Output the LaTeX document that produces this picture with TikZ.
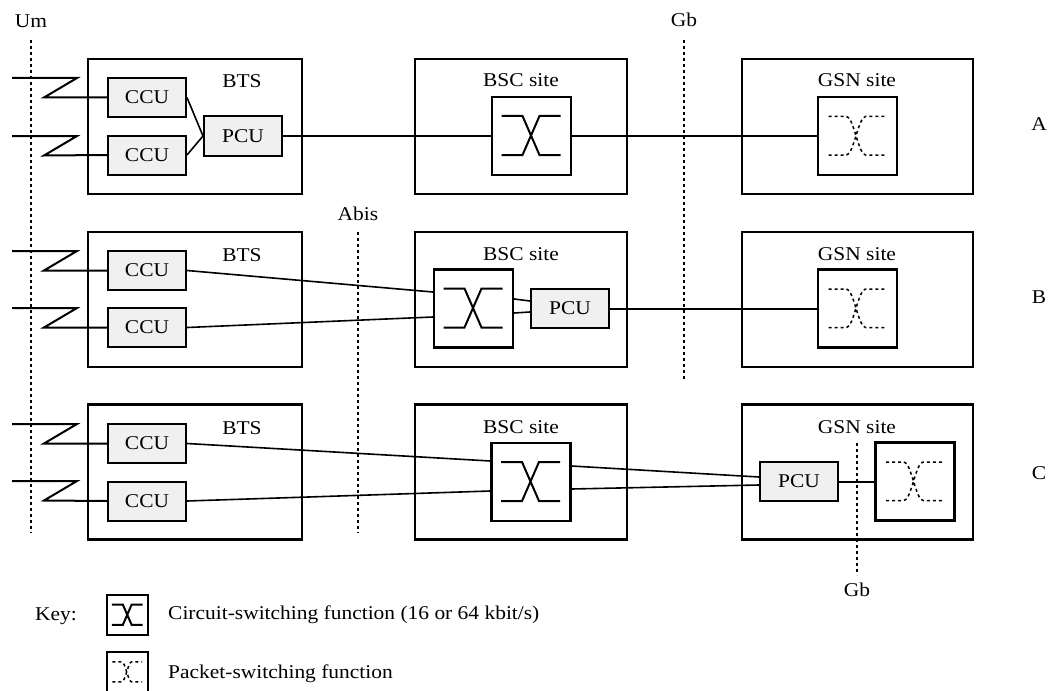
\documentclass[tikz,border=0pt]{standalone}
\usepackage{fontspec}
\setmainfont{Liberation Serif}[FakeStretch=1.1]
\usetikzlibrary{calc}
\begin{document}
\begin{tikzpicture}[x=1pt,y=-1pt,
  every node/.style={font=\fontsize{19.5}{23}\selectfont, inner sep=0pt},
  site/.style={draw, line width=2.3pt, minimum height=135pt},
  unitbox/.style={draw, line width=2pt, fill=black!6, minimum width=78pt, minimum height=39pt},
  swbox/.style={draw, line width=2.2pt, minimum width=79pt, minimum height=78pt},
  conn/.style={line width=2pt},
  thinconn/.style={line width=1.6pt},
  dotline/.style={line width=2pt, dash pattern=on 3pt off 3pt},
  lbl/.style={anchor=base},
  cswpic/.pic={\draw[line width=2pt, line join=miter] (-30,-20) -- (-9,-20) -- (8,19) -- (29,19) (-30,19) -- (-9,19) -- (8,-20) -- (29,-20);},
  pswpic/.pic={\draw[line width=1.5pt, dash pattern=on 3pt off 3pt] (-29,-19.5) -- (-11,-19.5) .. controls (-4,-19.5) and (1,19) .. (8,19) -- (28,19) (-29,19) -- (-11,19) .. controls (-4,19) and (1,-19.5) .. (8,-19.5) -- (28,-19.5);}
]
\useasboundingbox (0,0) rectangle (1051,690);

% interface lines
\coordinate (umT) at (31,40);  \coordinate (umB) at (31,533);
\coordinate (abT) at (358,232); \coordinate (abB) at (358,533);
\coordinate (gbT) at (684,40); \coordinate (gbB) at (684,380);
\coordinate (gb2T) at (857,443); \coordinate (gb2B) at (857,575);
\draw[dotline] (umT) -- (umB);
\draw[dotline] (abT) -- (abB);
\draw[dotline] (gbT) -- (gbB);
\node[lbl] (um) at (31,28) {Um};
\node[lbl] (abis) at (358,220) {Abis};
\node[lbl] (gb) at (684,27) {Gb};
\node[lbl] (gb2) at (857,596) {Gb};

% sites
\foreach \r/\y in {A/126.5,B/299.5,C/472}{
  \node[site, minimum width=214pt] (bts\r) at (195,\y) {};
  \node[site, minimum width=212pt] (bsc\r) at (521,\y) {};
  \node[site, minimum width=231pt] (gsn\r) at (857.5,\y) {};
}
\node[lbl] (btsAl) at (242,88) {BTS};
\node[lbl] (btsBl) at (242,261) {BTS};
\node[lbl] (btsCl) at (242,434) {BTS};
\node[lbl] (bscAl) at (521,87) {BSC site};
\node[lbl] (bscBl) at (521,260) {BSC site};
\node[lbl] (bscCl) at (521,433) {BSC site};
\node[lbl] (gsnAl) at (857,87) {GSN site};
\node[lbl] (gsnBl) at (857,260) {GSN site};
\node[lbl] (gsnCl) at (857,433) {GSN site};
\node[lbl] (rowA) at (1039,130) {A};
\node[lbl] (rowB) at (1039,303) {B};
\node[lbl] (rowC) at (1039,479) {C};

\draw[dotline] (gb2T) -- (gb2B);

% units
\node[unitbox] (ccuA1) at (147,97.5) {CCU};
\node[unitbox] (ccuA2) at (147,155) {CCU};
\node[unitbox] (pcuA) at (243,136) {PCU};
\node[unitbox] (ccuB1) at (147,270.5) {CCU};
\node[unitbox] (ccuB2) at (147,327.5) {CCU};
\node[unitbox] (pcuB) at (570,308.5) {PCU};
\node[unitbox] (ccuC1) at (147,443.5) {CCU};
\node[unitbox] (ccuC2) at (147,501) {CCU};
\node[unitbox] (pcuC) at (799,481.5) {PCU};

% switches
\node[swbox] (swA) at (531.5,136) {};
\node[swbox] (swB) at (473.5,308.5) {};
\node[swbox] (swC) at (531,482) {};
\node[swbox] (gswA) at (857.5,136) {};
\node[swbox] (gswB) at (857.5,308.5) {};
\node[swbox] (gswC) at (915,481.5) {};
\pic at (swA.center) {cswpic};
\pic at (swB.center) {cswpic};
\pic at (swC.center) {cswpic};
\pic at (gswA.center) {pswpic};
\pic at (gswB.center) {pswpic};
\pic at (gswC.center) {pswpic};

% antennas
\foreach \n/\yt in {A1/78,A2/136,B1/251,B2/308,C1/424,C2/481}{
  \coordinate (ant\n) at (12,\yt);
  \draw[conn, line join=miter] (ant\n) -- ++(65,0) -- ++(-33,19.5) -- (ccu\n.west);
}

% row A
\draw[thinconn] (ccuA1.east) -- (pcuA.west);
\draw[thinconn] (ccuA2.east) -- (pcuA.west);
\draw[conn] (pcuA.east) -- (swA.west);
\draw[conn] (swA.east) -- (gswA.west);

% row B
\draw[thinconn] (ccuB1.east) -- ($(swB.west)+(0,-16.5)$);
\draw[thinconn] (ccuB2.east) -- ($(swB.west)+(0,8.5)$);
\draw[thinconn] ($(swB.east)+(0,-9.5)$) -- ($(pcuB.west)+(0,-7.5)$);
\draw[thinconn] ($(swB.east)+(0,4.5)$) -- ($(pcuB.west)+(0,3.5)$);
\draw[conn] (pcuB.east) -- (gswB.west);

% row C
\draw[thinconn] (ccuC1.east) -- ($(swC.west)+(0,-21)$);
\draw[thinconn] (ccuC2.east) -- ($(swC.west)+(0,9)$);
\draw[thinconn] ($(swC.east)+(0,-16)$) -- ($(pcuC.west)+(0,-4.5)$);
\draw[thinconn] ($(swC.east)+(0,7)$) -- ($(pcuC.west)+(0,3.5)$);
\draw[conn] (pcuC.east) -- (gswC.west);

% key
\node[lbl] (keyl) at (56,620) {Key:};
\node[draw, line width=2.2pt, minimum width=41pt, minimum height=40pt] (key1) at (127.5,615) {};
\node[draw, line width=2.2pt, minimum width=41pt, minimum height=40pt] (key2) at (127.5,672) {};
\pic[scale=0.52] at (key1.center) {cswpic};
\pic[scale=0.52] at (key2.center) {pswpic};
\node[lbl, anchor=base west] (key1t) at (168,619) {Circuit-switching function (16 or 64 kbit/s)};
\node[lbl, anchor=base west] (key2t) at (168,678) {Packet-switching function};
\end{tikzpicture}
\end{document}
